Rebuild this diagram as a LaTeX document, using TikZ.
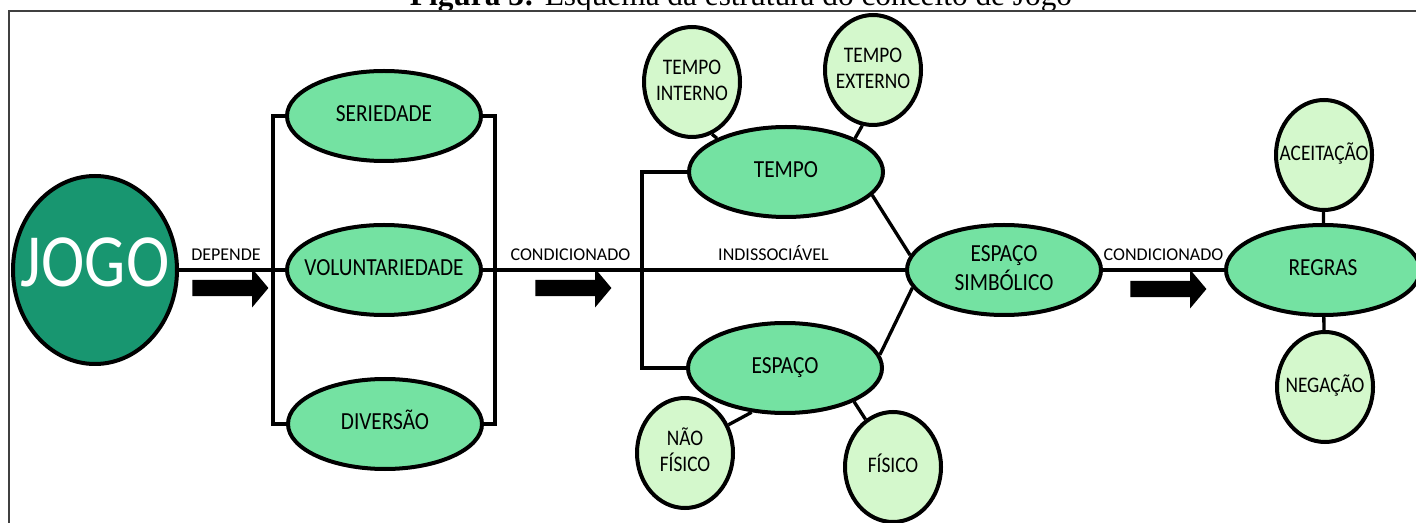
\documentclass[tikz,border=0pt]{standalone}
\usepackage{fontspec}
\usepackage{graphicx}
\setmainfont{Carlito}
\newfontfamily\titlefont{Liberation Serif}
\usetikzlibrary{shapes.geometric,shapes.arrows}
\definecolor{verdeesc}{RGB}{24,150,112}
\definecolor{verdemed}{RGB}{116,226,162}
\definecolor{verdeclaro}{RGB}{212,248,204}
\newcommand{\ctr}[1]{\makebox[0pt]{\scalebox{1}[1.15]{\begin{tabular}{@{}c@{}}#1\end{tabular}}}}
\begin{document}
\begin{tikzpicture}[x=.75pt,y=-.75pt,
	raiz/.style={ellipse,draw,line width=3pt,fill=verdeesc,text=white,inner sep=0,minimum width=123pt,minimum height=141pt,font=\fontsize{49}{55}\selectfont},
	conceito/.style={ellipse,draw,line width=3pt,fill=verdemed,inner sep=0,minimum width=145.5pt,minimum height=67.5pt,font=\fontsize{16}{19.5}\selectfont},
	sub/.style={ellipse,draw,line width=3pt,fill=verdeclaro,inner sep=0,minimum width=72pt,minimum height=82.5pt,font=\fontsize{14.5}{17}\selectfont},
	conn/.style={line width=2.5pt},
	lbl/.style={font=\fontsize{13.5}{15}\selectfont,inner sep=0,above=5.5pt},
	seta/.style={single arrow,fill=black,inner xsep=0,inner ysep=5.9pt,minimum height=57pt,single arrow head extend=8.5pt,single arrow tip angle=100}]
	\useasboundingbox (0,0) rectangle (1416,523);
	\clip (0,0) rectangle (1416,523);
	\fill[white] (0,0) rectangle (1416,523);
	\node[anchor=base,font=\titlefont\fontsize{23.5}{26}\selectfont] (titulo) at (741,6) {\textbf{Figura 3:} Esquema da estrutura do conceito de Jogo};
	\draw[line width=1.5pt,black!75] (9,540)--(9,11)--(1430,11);

	\node[raiz] (jogo) at (95,270) {\ctr{JOGO}};
	\node[conceito] (ser) at (384,116) {\ctr{SERIEDADE}};
	\node[conceito] (vol) at (384,270) {\ctr{VOLUNTARIEDADE}};
	\node[conceito] (div) at (385,424) {\ctr{DIVERSÃO}};
	\node[conceito] (tempo) at (786,172) {\ctr{TEMPO}};
	\node[conceito] (espaco) at (785,368) {\ctr{ESPAÇO}};
	\node[conceito] (esimb) at (1004,270) {\ctr{ESPAÇO\\SIMBÓLICO}};
	\node[conceito] (regras) at (1323,270) {\ctr{REGRAS}};
	\node[sub] (ti) at (692,82) {\ctr{TEMPO\\INTERNO}};
	\node[sub] (te) at (873,70) {\ctr{TEMPO\\EXTERNO}};
	\node[sub] (nf) at (685,453) {\ctr{NÃO\\FÍSICO}};
	\node[sub] (fis) at (893,467) {\ctr{FÍSICO}};
	\node[sub] (acei) at (1324,155) {\ctr{ACEITAÇÃO}};
	\node[sub] (neg) at (1325,387) {\ctr{NEGAÇÃO}};

	\coordinate (b1) at (273,270);
	\coordinate (b2) at (495,270);
	\coordinate (b3) at (642,270);

	\draw[conn] (jogo) -- node[lbl]{DEPENDE} (b1) -- (vol);
	\draw[conn] (ser.west) -| (b1) |- (div.west);
	\draw[conn] (ser.east) -| (b2) |- (div.east);
	\draw[conn] (vol) -- node[lbl,pos=.55]{CONDICIONADO} (b3) -- node[lbl]{INDISSOCIÁVEL} (esimb);
	\draw[conn] (tempo.west) -| (b3) |- (espaco.west);
	\draw[conn] (esimb) -- node[lbl]{CONDICIONADO} (regras);
	\draw[conn] (ti.-69) -- (tempo.154);
	\draw[conn] (te.-101) -- (tempo.26);
	\draw[conn] (nf.33) -- (espaco.-127);
	\draw[conn] (fis.120) -- (espaco.-26);
	\draw[conn] (tempo.-15) -- (esimb.171);
	\draw[conn] (espaco.8) -- (esimb.-169);
	\draw[conn] (acei) -- (regras);
	\draw[conn] (neg) -- (regras);

	\node[seta] (a1) at (227,288) {};
	\node[seta] (a2) at (570,288) {};
	\node[seta] (a3) at (1165,289) {};
\end{tikzpicture}
\end{document}
